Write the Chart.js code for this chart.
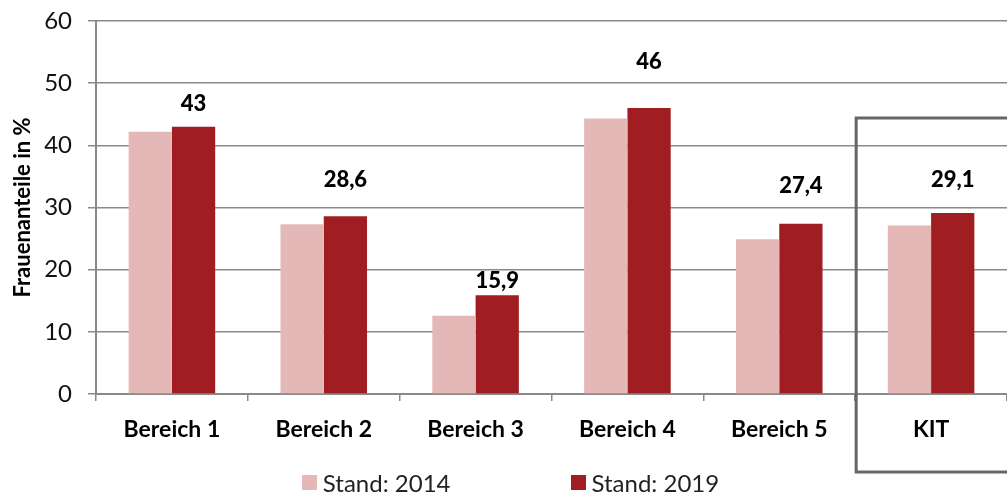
<!DOCTYPE html>
<html lang="de">
<head>
    <meta charset="UTF-8">
    <title>Frauenanteile in %</title>
    <script src="https://cdn.jsdelivr.net/npm/chart.js"></script>
    <style>
        body {
            margin: 0;
            background: #fff;
            font-family: Lato, sans-serif;
        }
        #wrap {
            position: relative;
            width: 1007px;
            height: 498px;
            overflow: hidden;
        }
        #legend {
            position: absolute;
            left: 7px;
            top: 468px;
            width: 1007px;
            display: flex;
            justify-content: center;
            gap: 120px;
            font-size: 24px;
            color: #222;
        }
        #legend span.item {
            display: flex;
            align-items: center;
        }
        #legend span.box {
            display: inline-block;
            width: 15px;
            height: 15px;
            margin-right: 6px;
        }
    </style>
</head>
<body>
    <div id="wrap">
        <canvas id="chart"></canvas>
        <div id="legend"></div>
    </div>

    <script>
        const categories = ['Bereich 1', 'Bereich 2', 'Bereich 3', 'Bereich 4', 'Bereich 5', 'KIT'];
        const seriesNames = ['Stand: 2014', 'Stand: 2019'];
        const values2014 = [42.2, 27.3, 12.6, 44.3, 24.9, 27.1];
        const values2019 = [43, 28.6, 15.9, 46, 27.4, 29.1];
        const yTicks = [0, 10, 20, 30, 40, 50, 60];

        const colors = ['#E5B8B8', '#A01E21'];
        const gridColor = '#8a8a8a';

        // labels sit at different heights above the 2019 bars in the original
        const labelOffsets = [23, 36, 14, 46, 38, 33];

        const valueLabels = {
            id: 'valueLabels',
            afterDatasetsDraw(chart) {
                const ctx = chart.ctx;
                const meta = chart.getDatasetMeta(1);
                ctx.save();
                ctx.font = '900 22px Lato';
                ctx.fillStyle = '#000';
                ctx.textAlign = 'center';
                ctx.textBaseline = 'middle';
                meta.data.forEach((bar, i) => {
                    const txt = values2019[i].toLocaleString('de-DE');
                    ctx.fillText(txt, bar.x, bar.y - labelOffsets[i]);
                });
                ctx.restore();
            }
        };

        // grey frame around the KIT group
        const kitFrame = {
            id: 'kitFrame',
            afterDraw(chart) {
                const x = chart.scales.x;
                const ctx = chart.ctx;
                const last = categories.length - 1;
                const left = (x.getPixelForValue(last - 1) + x.getPixelForValue(last)) / 2 + 1;
                ctx.save();
                ctx.strokeStyle = '#666';
                ctx.lineWidth = 3;
                ctx.strokeRect(left, 118, 200, 354);
                ctx.restore();
            }
        };

        new Chart(document.getElementById('chart'), {
            type: 'bar',
            data: {
                labels: categories,
                datasets: [
                    {
                        label: seriesNames[0],
                        data: values2014,
                        backgroundColor: colors[0]
                    },
                    {
                        label: seriesNames[1],
                        data: values2019,
                        backgroundColor: colors[1]
                    }
                ]
            },
            options: {
                responsive: true,
                maintainAspectRatio: false,
                animation: false,
                layout: { padding: { top: 21, right: 0, bottom: 0, left: 0 } },
                datasets: {
                    bar: { barPercentage: 1, categoryPercentage: 0.57 }
                },
                plugins: {
                    legend: { display: false },
                    tooltip: { enabled: false }
                },
                scales: {
                    x: {
                        afterFit: s => { s.height = 104; s.paddingLeft = 0; s.paddingRight = 0; },
                        border: { color: gridColor, width: 2 },
                        grid: {
                            offset: true,
                            drawOnChartArea: false,
                            color: gridColor,
                            lineWidth: 1.5,
                            tickLength: 7
                        },
                        ticks: {
                            color: '#000',
                            padding: 15,
                            font: { family: 'Lato', size: 23, weight: 'bold' }
                        }
                    },
                    y: {
                        min: 0,
                        max: 60,
                        afterFit: s => { s.width = 96; s.paddingTop = 0; s.paddingBottom = 0; },
                        afterBuildTicks: s => { s.ticks = yTicks.map(v => ({ value: v })); },
                        border: { color: gridColor, width: 2 },
                        grid: {
                            color: gridColor,
                            lineWidth: 1.5,
                            tickLength: 8
                        },
                        ticks: {
                            color: '#111',
                            padding: 16,
                            font: { family: 'Lato', size: 24 }
                        },
                        title: {
                            display: true,
                            text: 'Frauenanteile in %',
                            color: '#000',
                            padding: { top: 10, bottom: 0 },
                            font: { family: 'Lato', size: 22, weight: 'bold' }
                        }
                    }
                }
            },
            plugins: [valueLabels, kitFrame]
        });

        const legend = document.getElementById('legend');
        seriesNames.forEach((name, i) => {
            const item = document.createElement('span');
            item.className = 'item';
            const box = document.createElement('span');
            box.className = 'box';
            box.style.background = colors[i];
            item.appendChild(box);
            item.appendChild(document.createTextNode(name));
            legend.appendChild(item);
        });
    </script>
</body>
</html>
